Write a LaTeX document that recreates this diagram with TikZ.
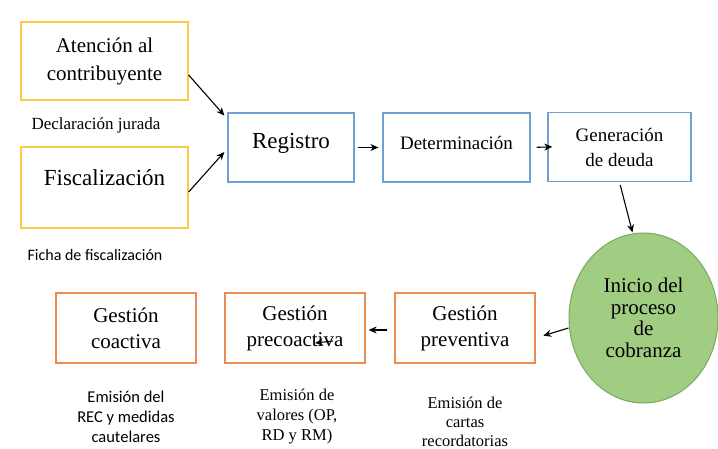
\documentclass[tikz,border=0pt]{standalone}
\usepackage{fontspec}
\setmainfont{Liberation Serif}
\newfontfamily\calib{Carlito}
\usetikzlibrary{arrows.meta, shapes.geometric, positioning}
\definecolor{boxyellow}{RGB}{255,200,70}
\definecolor{boxblue}{RGB}{110,160,210}
\definecolor{boxorange}{RGB}{237,140,80}
\definecolor{circfill}{RGB}{160,205,130}
\definecolor{circline}{RGB}{120,170,95}
\tikzset{
  base/.style={draw, line width=1.3pt, align=center, inner sep=0pt},
  ybox/.style={base, draw=boxyellow, minimum width=167pt, font=\fontsize{21}{28}\selectfont},
  bbox/.style={base, draw=boxblue, minimum height=69pt, font=\fontsize{19}{25}\selectfont},
  obox/.style={base, draw=boxorange, minimum width=140pt, minimum height=70pt, font=\fontsize{21}{26}\selectfont},
  note/.style={align=center, font=\fontsize{16.5}{20}\selectfont},
  snote/.style={align=center, font=\calib\fontsize{16.5}{20}\selectfont},
  flow/.style={-{Stealth[length=8pt,width=7pt]}, line width=1.1pt}
}
\begin{document}
\begin{tikzpicture}[x=1pt, y=-1pt]
\useasboundingbox (0,0) rectangle (718,449);
% entradas
\node[ybox, minimum height=78pt] (aten) at (104.5,61) {Atención al\\contribuyente};
\node[ybox, minimum height=81pt, font=\fontsize{23}{28}\selectfont, text depth=20pt] (fisc) at (104.5,187.5) {Fiscalización};
\node[note, font=\fontsize{17}{20}\selectfont] (dj) at (96,125) {Declaración jurada};
\node[snote, font=\calib\fontsize{16}{18}\selectfont] (ff) at (95,255) {Ficha de fiscalización};
% fila superior
\node[bbox, minimum width=126pt, font=\fontsize{23}{27}\selectfont, text depth=14pt] (reg) at (291,147.5) {Registro};
\node[bbox, minimum width=147pt, text depth=10pt] (det) at (456.5,147.5) {Determinación};
\node[bbox, minimum width=143pt] (gen) at (619.5,147) {Generación\\de deuda};
\node[ellipse, draw=circline, line width=1pt, fill=circfill, minimum width=149pt, minimum height=170pt,
      align=center, font=\fontsize{21}{21.5}\selectfont] (circ) at (643.5,318) {Inicio del\\proceso\\de\\cobranza};
% fila inferior
\node[obox] (coac) at (126,328) {Gestión\\coactiva};
\node[obox] (prec) at (295,328) {Gestión\\precoactiva};
\node[obox] (prev) at (465,328) {Gestión\\preventiva};
\node[snote] (n1) at (126,417) {Emisión del\\REC y medidas\\cautelares};
\node[note] (n2) at (297,417) {Emisión de\\valores (OP,\\RD y RM)};
\node[note, font=\fontsize{16.5}{19}\selectfont] (n3) at (465,422) {Emisión de\\cartas\\recordatorias};
\coordinate (tail) at ([xshift=38pt,yshift=-13pt]prec.center);
\coordinate (tip) at ([xshift=20pt,yshift=-15pt]prec.center);
% conectores
\draw[flow] ([yshift=-14pt]aten.east) -- ([xshift=-3pt,yshift=32pt]reg.west);
\draw[flow] ([yshift=-4.5pt]fisc.east) -- ([xshift=-3pt,yshift=-4.5pt]reg.west);
\draw[flow, shorten <=3pt, shorten >=4pt] (reg.east) -- (det.west);
\draw[flow, shorten <=6pt, shorten >=-5pt] (det.east) -- (gen.west);
\draw[flow, shorten <=3pt] (gen.south) -- ([xshift=-11pt]circ.north);
\draw[flow, shorten >=8pt] ([yshift=-10pt]circ.west) -- ([yshift=-10pt]prev.east);
\draw[flow, shorten <=7pt, shorten >=3pt] ([yshift=-2pt]prev.west) -- ([yshift=-2pt]prec.east);
\draw[flow] (tail) -- (tip);
\end{tikzpicture}
\end{document}
